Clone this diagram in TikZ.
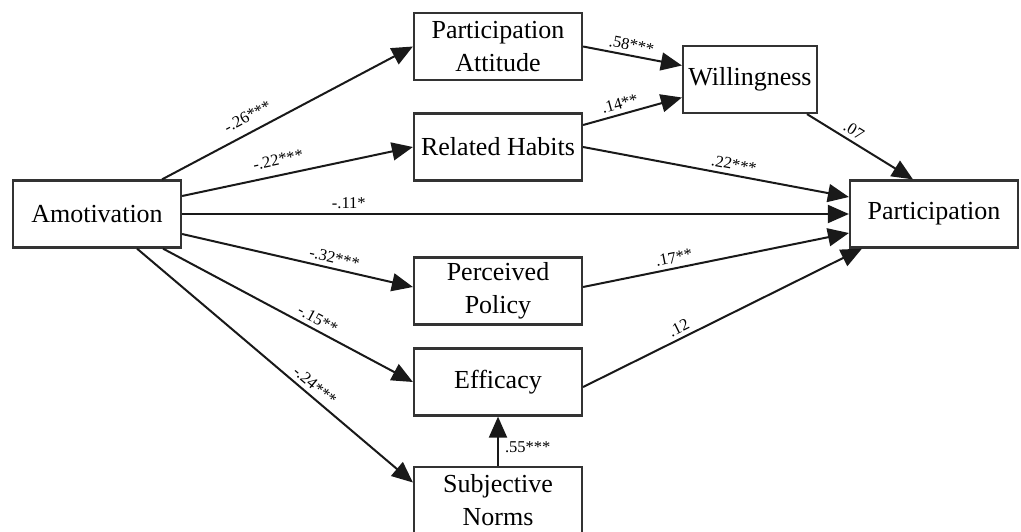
\documentclass[tikz,border=0pt]{standalone}
\usepackage{fontspec}
\setmainfont{Liberation Serif}
\usetikzlibrary{arrows.meta}
\begin{document}
\begin{tikzpicture}[x=1pt,y=-1pt,
  box/.style={draw=black!80, line width=2.2pt, minimum width=168pt, minimum height=67pt,
    inner sep=0pt, align=center, font=\fontsize{26}{33}\selectfont},
  conn/.style={line width=2pt, draw=black!90, -{Triangle[length=21pt,width=18pt]}},
  lab/.style={font=\fontsize{16.5}{19}\selectfont, sloped, above=2pt, inner sep=2pt},
  labfar/.style={lab, above=5pt},
  labr/.style={font=\fontsize{16.5}{19}\selectfont, right=4pt, inner sep=2pt}]
\useasboundingbox (0,0) rectangle (1021,531);
\node[box] (amo) at (97,214) {Amotivation};
\node[box] (pa) at (498,46.5) {Participation\\Attitude};
\node[box, minimum width=134pt] (will) at (750,79.5) {Willingness};
\node[box] (rh) at (498,147) {Related Habits};
\node[box] (part) at (934,214) {Participation};
\node[box] (pp) at (498,291) {Perceived\\Policy};
\node[box] (eff) at (498,382) {Efficacy};
\node[box] (sn) at (498,500.5) {Subjective\\Norms};

\draw[conn] ([xshift=65pt]amo.north) -- node[labfar,pos=0.37] (l1) {-.26***} (pa.west);
\draw[conn] ([yshift=18pt]amo.east) -- node[labfar,pos=0.43] (l2) {-.22***} (rh.west);
\draw[conn] (amo.east) -- node[lab,pos=0.25] (l3) {-.11*} (part.west);
\draw[conn] ([yshift=-20pt]amo.east) -- node[lab,pos=0.65] (l4) {-.32***} ([yshift=4pt]pp.west);
\draw[conn] ([xshift=66pt]amo.south) -- node[lab,pos=0.6] (l5) {-.15**} (eff.west);
\draw[conn] ([xshift=40pt]amo.south) -- node[lab,pos=0.62] (l6) {-.24***} ([yshift=18pt]sn.west);
\draw[conn] (pa.east) -- node[lab,pos=0.47] (l7) {.58***} ([yshift=14pt]will.west);
\draw[conn] ([yshift=22pt]rh.east) -- node[lab,pos=0.4] (l8) {.14**} ([yshift=-18pt]will.west);
\draw[conn] (rh.east) -- node[lab,pos=0.56] (l9) {.22***} ([yshift=17pt]part.west);
\draw[conn] ([xshift=57pt]will.south) -- node[lab,pos=0.39] (l10) {.07} ([xshift=-21pt]part.north);
\draw[conn] ([yshift=4pt]pp.east) -- node[lab,pos=0.35] (l11) {.17**} ([yshift=-19pt]part.west);
\draw[conn] ([yshift=-5pt]eff.east) -- node[lab,pos=0.36] (l12) {.12} ([xshift=-72pt]part.south);
\draw[conn] (sn.north) -- node[labr,pos=0.37] (l13) {.55***} (eff.south);
\end{tikzpicture}
\end{document}
